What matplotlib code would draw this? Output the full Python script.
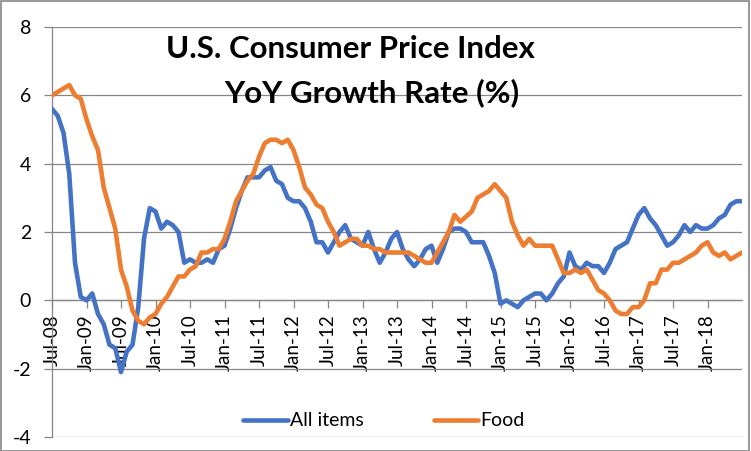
import numpy as np
import matplotlib.pyplot as plt
from matplotlib.patches import Rectangle

plt.rcParams['font.family'] = ['Lato', 'DejaVu Sans']
plt.rcParams['axes.unicode_minus'] = False

# Datos: variación interanual del IPC de EE.UU. (%), mensual desde Jul-08 hasta Jul-18
all_items = [
    5.6, 5.4, 4.9, 3.7, 1.1, 0.1,
    0.0, 0.2, -0.4, -0.7, -1.3, -1.4, -2.1, -1.5, -1.3, -0.2, 1.8, 2.7,
    2.6, 2.1, 2.3, 2.2, 2.0, 1.1, 1.2, 1.1, 1.1, 1.2, 1.1, 1.5,
    1.6, 2.1, 2.7, 3.2, 3.6, 3.6, 3.6, 3.8, 3.9, 3.5, 3.4, 3.0,
    2.9, 2.9, 2.7, 2.3, 1.7, 1.7, 1.4, 1.7, 2.0, 2.2, 1.8, 1.7,
    1.6, 2.0, 1.5, 1.1, 1.4, 1.8, 2.0, 1.5, 1.2, 1.0, 1.2, 1.5,
    1.6, 1.1, 1.5, 2.0, 2.1, 2.1, 2.0, 1.7, 1.7, 1.7, 1.3, 0.8,
    -0.1, 0.0, -0.1, -0.2, 0.0, 0.1, 0.2, 0.2, 0.0, 0.2, 0.5, 0.7,
    1.4, 1.0, 0.9, 1.1, 1.0, 1.0, 0.8, 1.1, 1.5, 1.6, 1.7, 2.1,
    2.5, 2.7, 2.4, 2.2, 1.9, 1.6, 1.7, 1.9, 2.2, 2.0, 2.2, 2.1,
    2.1, 2.2, 2.4, 2.5, 2.8, 2.9, 2.9,
]
food = [
    6.0, 6.1, 6.2, 6.3, 6.0, 5.9,
    5.3, 4.8, 4.4, 3.3, 2.7, 2.1, 0.9, 0.4, -0.3, -0.6, -0.7, -0.5,
    -0.4, -0.1, 0.1, 0.4, 0.7, 0.7, 0.9, 1.0, 1.4, 1.4, 1.5, 1.5,
    1.8, 2.3, 2.9, 3.2, 3.5, 3.7, 4.2, 4.6, 4.7, 4.7, 4.6, 4.7,
    4.4, 3.9, 3.3, 3.1, 2.8, 2.7, 2.3, 2.0, 1.6, 1.7, 1.8, 1.8,
    1.6, 1.6, 1.5, 1.5, 1.4, 1.4, 1.4, 1.4, 1.4, 1.3, 1.2, 1.1,
    1.1, 1.4, 1.7, 2.0, 2.5, 2.3, 2.45, 2.6, 3.0, 3.1, 3.2, 3.4,
    3.2, 3.0, 2.3, 1.9, 1.6, 1.8, 1.6, 1.6, 1.6, 1.6, 1.2, 0.8,
    0.8, 0.9, 0.8, 0.9, 0.6, 0.3, 0.2, 0.0, -0.3, -0.4, -0.4, -0.2,
    -0.2, 0.0, 0.5, 0.5, 0.9, 0.9, 1.1, 1.1, 1.2, 1.3, 1.4, 1.6,
    1.7, 1.4, 1.3, 1.4, 1.2, 1.3, 1.4,
]
tick_labels = ['Jul-08', 'Jan-09', 'Jul-09', 'Jan-10', 'Jul-10', 'Jan-11', 'Jul-11',
               'Jan-12', 'Jul-12', 'Jan-13', 'Jul-13', 'Jan-14', 'Jul-14', 'Jan-15',
               'Jul-15', 'Jan-16', 'Jul-16', 'Jan-17', 'Jul-17', 'Jan-18']

azul = '#4472C4'
naranja = '#ED7D31'
gris = '#868686'

x = np.arange(len(all_items))

fig = plt.figure(figsize=(7.51, 4.51), dpi=100)
ax = fig.add_axes([52 / 751, 1 - 437 / 451, 690 / 751, 410 / 451])

# el eje X cruza en 0 (hay que fijarlo antes de las etiquetas)
for s in ['top', 'right']:
    ax.spines[s].set_visible(False)
ax.spines['bottom'].set_position(('data', 0))
for s in ['left', 'bottom']:
    ax.spines[s].set_color(gris)
    ax.spines[s].set_linewidth(0.9)

ax.plot(x, all_items, color=azul, lw=3.3, label='All items', solid_capstyle='round', zorder=3)
ax.plot(x, food, color=naranja, lw=3.3, label='Food', solid_capstyle='round', zorder=3)

ax.set_xlim(0, len(all_items) - 1)
ax.set_ylim(-4, 8)
ax.set_yticks(range(-4, 9, 2))
ax.yaxis.grid(True, color=gris, lw=0.9)
ax.set_axisbelow(True)

ax.set_xticks(range(0, len(all_items) - 1, 6))
ax.set_xticklabels(tick_labels)

ax.tick_params(axis='y', length=6, width=0.9, color=gris, pad=9, labelsize=14)
ax.tick_params(axis='x', length=6, width=0.9, color=gris, pad=4, labelsize=13.5,
               labelrotation=90)

# Título dentro del gráfico
fig.text(350 / 751, 1 - 58 / 451, 'U.S. Consumer Price Index', ha='center', va='baseline',
         fontsize=22.5, fontweight='bold')
fig.text(372 / 751, 1 - 102 / 451, 'YoY Growth Rate (%)', ha='center', va='baseline',
         fontsize=22.5, fontweight='bold')

fig.legend(loc='center', bbox_to_anchor=(384 / 751, 1 - 421 / 451), ncol=2, frameon=False,
           fontsize=14, handlelength=2.3, handletextpad=0.1, columnspacing=3.6)

# Borde del área del gráfico
fig.patches.append(Rectangle((0.001, 0.001), 0.997, 0.997, transform=fig.transFigure,
                             fill=False, edgecolor=gris, lw=1.2))

plt.savefig('out.png', dpi=100)
